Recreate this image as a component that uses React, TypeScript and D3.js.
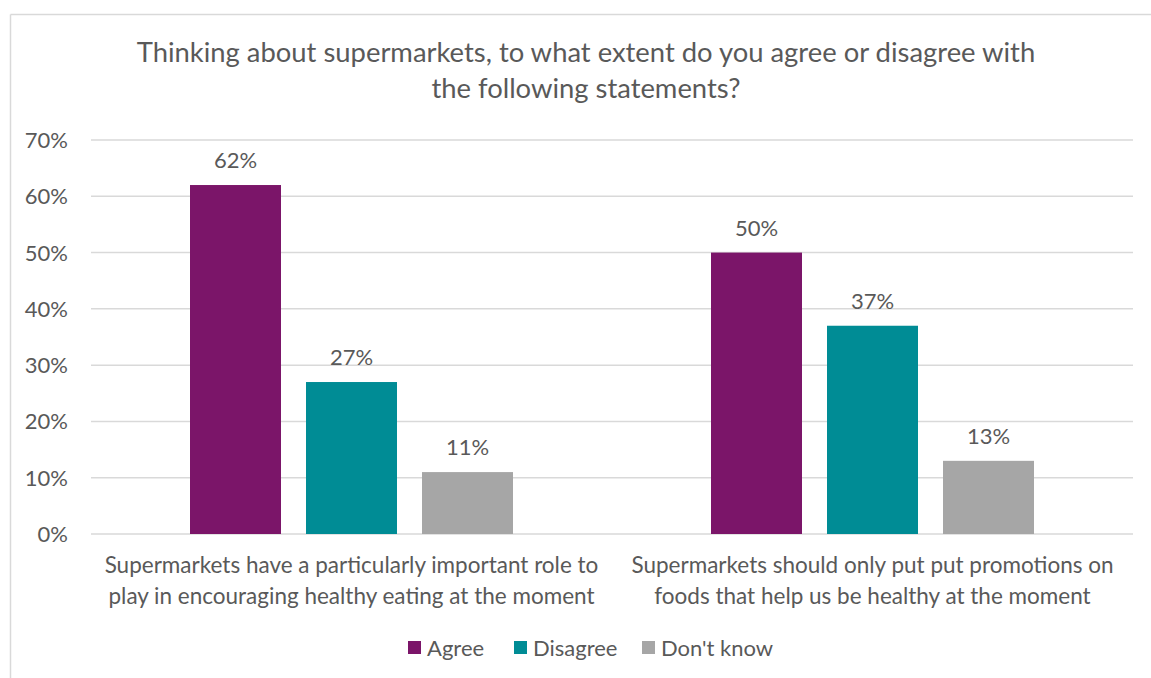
import React from "react";
import * as d3 from "d3";

const categories = [
  ["Supermarkets have a particularly important role to", "play in encouraging healthy eating at the moment"],
  ["Supermarkets should only put put promotions on", "foods that help us be healthy at the moment"],
];
const seriesNames = ["Agree", "Disagree", "Don't know"];
const agree = [62, 50];
const disagree = [27, 37];
const dontKnow = [11, 13];
const yTicks = [0, 10, 20, 30, 40, 50, 60, 70];
const colors = ["#7B1569", "#008C95", "#A6A6A6"];

const W = 1151, H = 678;
const FONT = "Lato, 'Open Sans', sans-serif";
const TXT = "#595959";

export default function App() {
  const series = [agree, disagree, dontKnow];
  const x0 = d3.scaleBand<number>().domain([0, 1]).range([91, 1133]);
  const x1 = d3.scaleBand<number>().domain([0, 1, 2]).range([99, 422]).paddingInner(0.2155).paddingOuter(0);
  const y = d3.scaleLinear().domain([0, 70]).range([534, 140]);

  const legendX = [408, 514, 642];

  return (
    <svg width={W} height={H} style={{ position: "absolute", left: 0, top: 0 }}>
      <rect x={0} y={0} width={W} height={H} fill="#fff" />
      <line x1={10.5} y1={14.5} x2={W} y2={14.5} stroke="#D9D9D9" strokeWidth={1.5} />
      <line x1={10.5} y1={14.5} x2={10.5} y2={H} stroke="#D9D9D9" strokeWidth={1.5} />
      <text x={586} y={62} textAnchor="middle" fontFamily={FONT} fontSize={27.4} fill={TXT}>
        Thinking about supermarkets, to what extent do you agree or disagree with
      </text>
      <text x={586} y={98} textAnchor="middle" fontFamily={FONT} fontSize={27.4} fill={TXT}>
        the following statements?
      </text>
      {yTicks.map((t) => (
        <g key={t}>
          <line x1={91} x2={1133} y1={y(t)} y2={y(t)} stroke="#D9D9D9" strokeWidth={1.5} />
          <text x={68} y={y(t) + 8} textAnchor="end" fontFamily={FONT} fontSize={22} fill={TXT}>
            {t}%
          </text>
        </g>
      ))}
      {categories.map((cat, ci) => (
        <g key={ci}>
          {series.map((s, si) => {
            const bx = (x0(ci) as number) + (x1(si) as number);
            return (
              <g key={si}>
                <rect x={bx} y={y(s[ci])} width={x1.bandwidth()} height={y(0) - y(s[ci])} fill={colors[si]} />
                <text x={bx + x1.bandwidth() / 2} y={y(s[ci]) - 17} textAnchor="middle" fontFamily={FONT} fontSize={22} fill={TXT}>
                  {s[ci]}%
                </text>
              </g>
            );
          })}
          {cat.map((line, li) => (
            <text key={li} x={(x0(ci) as number) + x0.bandwidth() / 2} y={573 + li * 31} textAnchor="middle" fontFamily={FONT} fontSize={22.5} fill={TXT}>
              {line}
            </text>
          ))}
        </g>
      ))}
      {seriesNames.map((n, i) => (
        <g key={n}>
          <rect x={legendX[i]} y={641} width={13} height={13} fill={colors[i]} />
          <text x={legendX[i] + 19} y={656} fontFamily={FONT} fontSize={22} fill={TXT}>
            {n}
          </text>
        </g>
      ))}
    </svg>
  );
}
